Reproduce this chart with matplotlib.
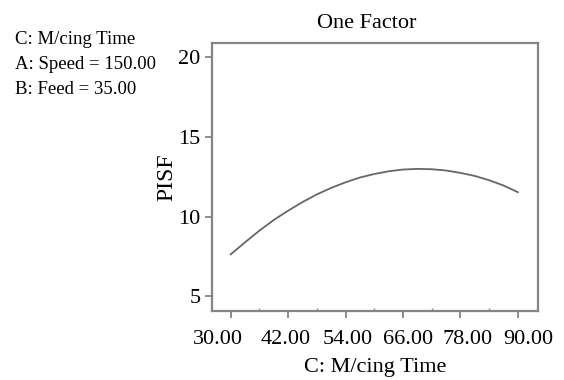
import matplotlib
matplotlib.use("Agg")
import matplotlib.pyplot as plt
from matplotlib.ticker import MultipleLocator
from matplotlib.transforms import ScaledTranslation

# values
mtime = [30, 33, 36, 39, 42, 45, 48, 51, 54, 57, 60, 63, 66, 69, 72, 75, 78, 81, 84, 87, 90]
pisf = [7.64, 8.4, 9.13, 9.8, 10.38, 10.92, 11.4, 11.81, 12.16, 12.46, 12.68, 12.85,
        12.96, 13.0, 12.98, 12.9, 12.75, 12.56, 12.29, 11.96, 11.54]
xticks = [30, 42, 54, 66, 78, 90]
yticks = [5, 10, 15, 20]
info = ["C: M/cing Time", "A: Speed = 150.00", "B: Feed = 35.00"]

plt.rcParams['font.family'] = ['Liberation Serif', 'DejaVu Serif']

fig = plt.figure(figsize=(5.64, 3.8), dpi=100)
ax = fig.add_axes([0.3755, 0.1816, 0.578, 0.7044])

ax.plot(mtime, pisf, color='#666666', linewidth=1.3)

ax.set_xlim(26.04, 94.17)
ax.set_ylim(4.09, 20.875)
ax.set_xticks(xticks)
ax.set_xticklabels(["%.2f" % v for v in xticks])
ax.set_yticks(yticks)
ax.xaxis.set_minor_locator(MultipleLocator(6))

for s in ax.spines.values():
    s.set_color('#858585')
    s.set_linewidth(1.6)
ax.tick_params(axis='both', which='major', direction='out', length=5, width=1.3,
               color='#858585', labelsize=16, pad=3)
ax.tick_params(axis='x', which='major', pad=9)
ax.tick_params(axis='x', which='minor', direction='in', length=2, width=1, color='#858585')

# in the original the tick labels sit a little wider apart than the ticks
label_shift_px = [-13, -2, 2, 5.5, 7.5, 10]
for lab, dx in zip(ax.get_xticklabels(), label_shift_px):
    lab.set_transform(lab.get_transform() + ScaledTranslation(dx / 100, 0, fig.dpi_scale_trans))

ax.set_xlabel("C: M/cing Time", fontsize=16, labelpad=6)
ax.set_ylabel("PISF", fontsize=17, labelpad=1)
ax.set_title("One Factor", fontsize=16, pad=11, x=0.475)

for i, t in enumerate(info):
    fig.text(0.027, 0.897 - i * 0.066, t, fontsize=13.5, va='center', ha='left')

fig.savefig("out.png", dpi=100)
